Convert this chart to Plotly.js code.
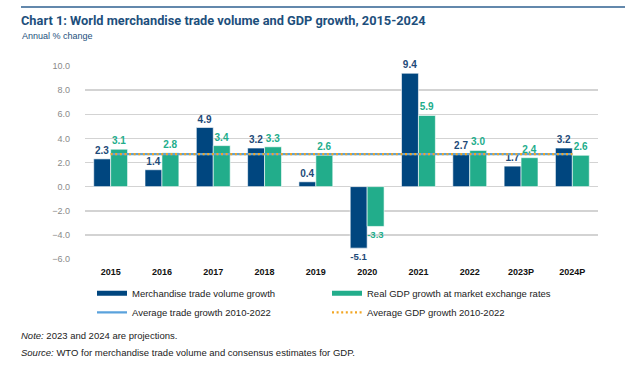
<!DOCTYPE html>
<html>
<head>
<meta charset="utf-8">
<script src="https://cdn.plot.ly/plotly-3.0.1.min.js"></script>
<style>html,body{margin:0;padding:0;background:#fff;}#chart{width:640px;height:365px;}</style>
</head>
<body>
<div id="chart"></div>
<script>
const categories = ['2015','2016','2017','2018','2019','2020','2021','2022','2023P','2024P'];
const tradeGrowth = [2.3, 1.4, 4.9, 3.2, 0.4, -5.1, 9.4, 2.7, 1.7, 3.2];
const gdpGrowth = [3.1, 2.8, 3.4, 3.3, 2.6, -3.3, 5.9, 3.0, 2.4, 2.6];
const avgTrade = [2.7, 2.7, 2.7, 2.7, 2.7, 2.7, 2.7, 2.7, 2.7, 2.7];
const avgGdp = [2.7, 2.7, 2.7, 2.7, 2.7, 2.7, 2.7, 2.7, 2.7, 2.7];
const yTicks = [-6, -4, -2, 0, 2, 4, 6, 8, 10];

const C_TRADE = '#00467f';
const C_GDP = '#22ad8b';
const C_AVGT = '#5aa2dc';
const C_AVGG = '#f2a623';
const FONT = 'Liberation Sans, Arial, sans-serif';

const traces = [
  {type:'bar', x:categories, y:tradeGrowth, name:'Merchandise trade volume growth', showlegend:false,
   marker:{color:C_TRADE, line:{color:'#ffffff', width:0.6}},
   texttemplate:'%{y:.1f}', textposition:'outside', cliponaxis:false,
   textfont:{family:FONT, size:10, color:'#1e4a78', weight:'bold'}, hoverinfo:'x+y'},
  {type:'bar', x:categories, y:gdpGrowth, name:'Real GDP growth at market exchange rates', showlegend:false,
   marker:{color:C_GDP, line:{color:'#ffffff', width:0.6}},
   texttemplate:'%{y:.1f}', textposition:'outside', cliponaxis:false,
   textfont:{family:FONT, size:10, color:C_GDP, weight:'bold'}, hoverinfo:'x+y'},
  {type:'scatter', mode:'lines', x:categories, y:avgTrade, name:'Average trade growth 2010-2022',
   line:{color:C_AVGT, width:2.2}, legend:'legend3', cliponaxis:false},
  {type:'scatter', mode:'lines', x:categories, y:avgGdp, name:'Average GDP growth 2010-2022',
   line:{color:C_AVGG, width:2.2, dash:'2px,2.6px'}, legend:'legend4', cliponaxis:false},
  {type:'scatter', mode:'lines', x:[null], y:[null], name:'Merchandise trade volume growth',
   line:{color:C_TRADE, width:5}, legend:'legend', hoverinfo:'skip'},
  {type:'scatter', mode:'lines', x:[null], y:[null], name:'Real GDP growth at market exchange rates',
   line:{color:C_GDP, width:5}, legend:'legend2', hoverinfo:'skip'}
];

const px = p => (p - 85) / 513;      // pixel x -> paper x
const py = p => (259 - p) / 193;     // pixel y -> paper y

function leg(xp, yp) {
  return {orientation:'h', x:px(xp), xanchor:'left', y:py(yp), yanchor:'middle',
    font:{family:FONT, size:9.5, color:'#222222'}, bgcolor:'rgba(0,0,0,0)', borderwidth:0,
    itemclick:false, itemdoubleclick:false};
}

const layout = {
  width:640, height:365,
  margin:{l:85, r:42, t:66, b:106, pad:0},
  paper_bgcolor:'#ffffff', plot_bgcolor:'#ffffff',
  font:{family:FONT, size:9, color:'#222222'},
  barmode:'group', bargap:0.34, bargroupgap:0,
  title:{text:'Chart 1: World merchandise trade volume and GDP growth, 2015-2024',
    x:21/640, xref:'container', xanchor:'left', y:1-21/365, yref:'container', yanchor:'middle',
    font:{family:'Roboto, sans-serif', size:12.8, color:'#1d4f7c', weight:'bold'}},
  xaxis:{type:'category', showgrid:false, zeroline:false, showline:false, ticks:'',
    tickfont:{family:FONT, size:9, color:'#111111', weight:'bold'}, ticklabelstandoff:6, fixedrange:true},
  yaxis:{range:[-6, 10], tickvals:yTicks, tickformat:'.1f', showgrid:true, gridcolor:'#d3d3d3', gridwidth:1.5,
    zeroline:false, showline:false, ticks:'', tickfont:{family:FONT, size:9, color:'#8a8a8a'},
    ticklabelstandoff:14, fixedrange:true},
  legend:leg(92, 293.3),
  legend2:leg(327, 293.3),
  legend3:leg(92, 312.3),
  legend4:leg(327, 312.3),
  shapes:[
    {type:'line', xref:'paper', yref:'paper', x0:px(21), x1:px(625), y0:py(7), y1:py(7),
     line:{color:'#2f6090', width:1.5}}
  ],
  annotations:[
    {text:'Annual % change', xref:'paper', yref:'paper', x:px(20), y:py(36.5), xanchor:'left', yanchor:'middle',
     showarrow:false, font:{family:FONT, size:9, color:'#1d4f7c'}},
    {text:'<i>Note:</i> 2023 and 2024 are projections.', xref:'paper', yref:'paper', x:px(19), y:py(335), xanchor:'left', yanchor:'middle',
     showarrow:false, font:{family:FONT, size:9.5, color:'#222222'}},
    {text:'<i>Source:</i> WTO for merchandise trade volume and consensus estimates for GDP.', xref:'paper', yref:'paper', x:px(19), y:py(352.5), xanchor:'left', yanchor:'middle',
     showarrow:false, font:{family:FONT, size:9.5, color:'#222222'}}
  ]
};

Plotly.newPlot('chart', traces, layout, {displayModeBar:false, staticPlot:true});
</script>
</body>
</html>
